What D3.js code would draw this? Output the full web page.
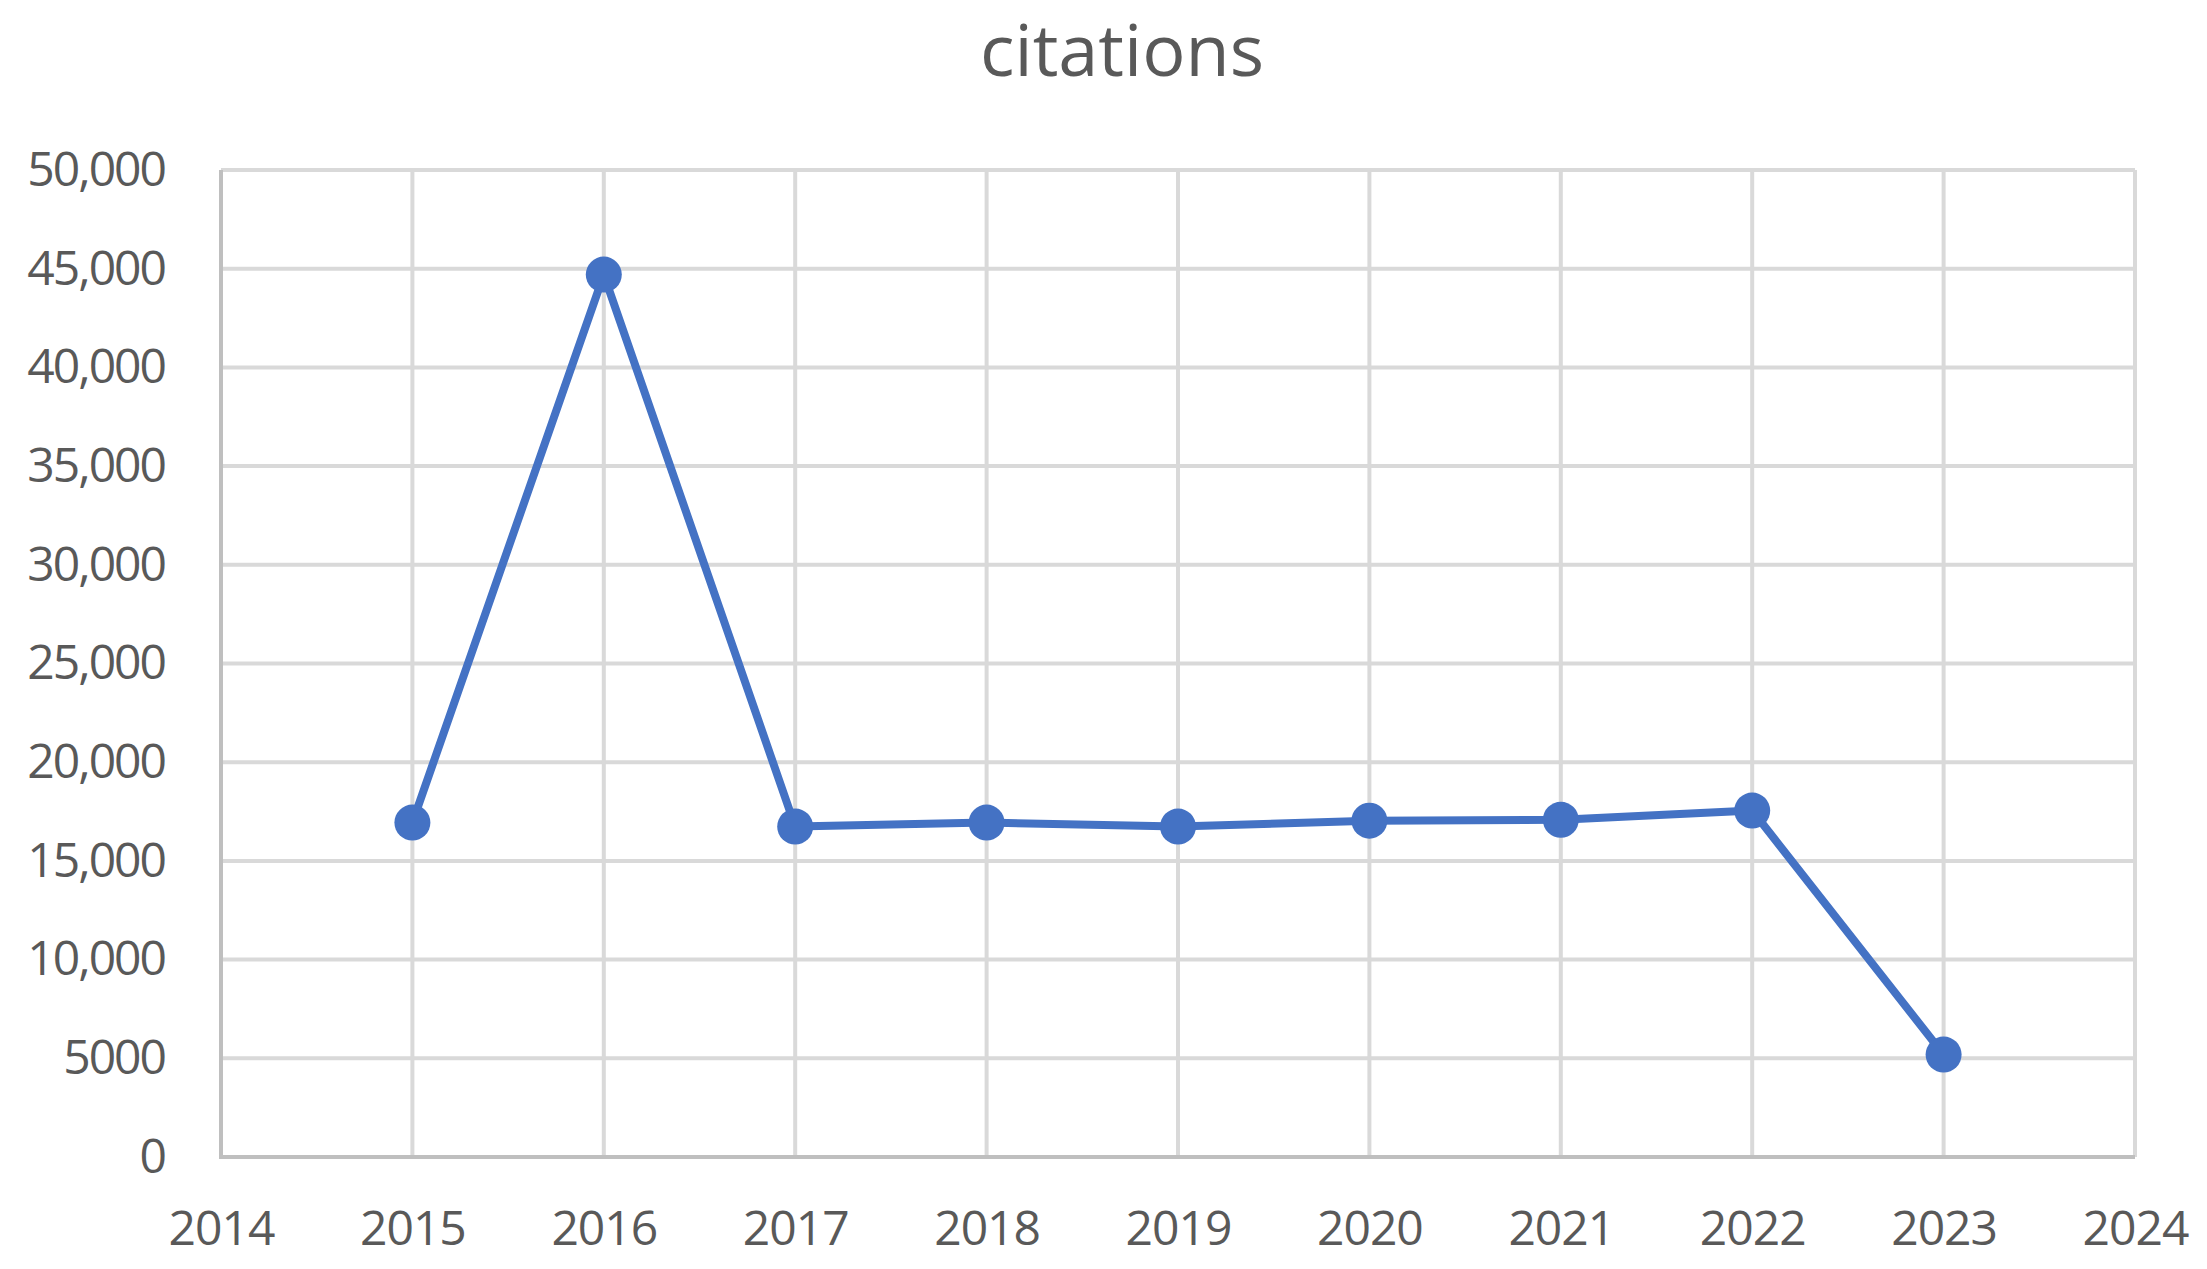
<!DOCTYPE html>
<html>
<head>
<meta charset="utf-8">
<script src="https://cdn.jsdelivr.net/npm/d3@7"></script>
<style>
	html, body { margin: 0; padding: 0; background: #fff; }
	svg text { font-family: 'Open Sans', 'Noto Sans', sans-serif; fill: #595959; }
</style>
</head>
<body>
<div id="chart"></div>
<script>
// ********** CITATIONS LINE CHART **********

// Chart data
const years = [2015, 2016, 2017, 2018, 2019, 2020, 2021, 2022, 2023];
const citations = [16940, 44700, 16740, 16940, 16740, 17040, 17080, 17550, 5190];

// Axis ticks
const xTicks = [2014, 2015, 2016, 2017, 2018, 2019, 2020, 2021, 2022, 2023, 2024];
const yTicks = [0, 5000, 10000, 15000, 20000, 25000, 30000, 35000, 40000, 45000, 50000];
const yTickLabels = ['0', '5000', '10,000', '15,000', '20,000', '25,000', '30,000', '35,000', '40,000', '45,000', '50,000'];

const width = 2207,
	  height = 1269;

// Set margins for plot area
const margin = {
	top: 170,
	left: 221,
	right: 72,
	bottom: 112
};

const lineColor = '#4472c4',
	  gridColor = '#d9d9d9',
	  axisColor = '#bfbfbf';

const svg = d3.select('#chart')
	.append('svg')
	.attr('width', width)
	.attr('height', height);

// Scales
const x = d3.scaleLinear()
	.domain([2014, 2024])
	.range([margin.left, width - margin.right]);

const y = d3.scaleLinear()
	.domain([0, 50000])
	.range([height - margin.bottom, margin.top]);

// Title
svg.append('text')
	.attr('x', 1122)
	.attr('y', 76)
	.attr('text-anchor', 'middle')
	.attr('font-size', 72)
	.text('citations');

// Horizontal gridlines
svg.append('g')
	.attr('class', 'y-grid')
	.selectAll('line')
	.data(yTicks)
	.enter()
	.append('line')
	.attr('x1', margin.left)
	.attr('x2', width - margin.right)
	.attr('y1', d => y(d))
	.attr('y2', d => y(d))
	.attr('stroke', gridColor)
	.attr('stroke-width', 4);

// Vertical gridlines
svg.append('g')
	.attr('class', 'x-grid')
	.selectAll('line')
	.data(xTicks)
	.enter()
	.append('line')
	.attr('x1', d => x(d))
	.attr('x2', d => x(d))
	.attr('y1', y(50000))
	.attr('y2', y(0))
	.attr('stroke', gridColor)
	.attr('stroke-width', 4);

// Axis lines (left and bottom), slightly darker than the grid
svg.append('line')
	.attr('x1', x(2014)).attr('x2', x(2014))
	.attr('y1', y(50000)).attr('y2', y(0) + 2)
	.attr('stroke', axisColor)
	.attr('stroke-width', 4);

svg.append('line')
	.attr('x1', x(2014) - 2).attr('x2', x(2024))
	.attr('y1', y(0)).attr('y2', y(0))
	.attr('stroke', axisColor)
	.attr('stroke-width', 4);

// Y axis labels
const yAxis = d3.axisLeft(y)
	.tickValues(yTicks)
	.tickFormat((d, i) => yTickLabels[i])
	.tickSize(0)
	.tickPadding(56);

svg.append('g')
	.attr('class', 'y-axis')
	.attr('transform', `translate(${margin.left}, 0)`)
	.call(yAxis)
	.call(g => g.select('.domain').remove())
	.selectAll('text')
	.attr('font-size', 48)
	.attr('letter-spacing', -2)
	.attr('fill', '#595959')
	.style('font-family', "'Open Sans', 'Noto Sans', sans-serif");

// X axis labels
const xAxis = d3.axisBottom(x)
	.tickValues(xTicks)
	.tickFormat(d3.format('d'))
	.tickSize(0)
	.tickPadding(54);

svg.append('g')
	.attr('class', 'x-axis')
	.attr('transform', `translate(0, ${height - margin.bottom})`)
	.call(xAxis)
	.call(g => g.select('.domain').remove())
	.selectAll('text')
	.attr('font-size', 48)
	.attr('letter-spacing', -1)
	.attr('fill', '#595959')
	.style('font-family', "'Open Sans', 'Noto Sans', sans-serif");

// Series line
const data = years.map((yr, i) => ({ year: yr, value: citations[i] }));

const line = d3.line()
	.x(d => x(d.year))
	.y(d => y(d.value));

svg.append('path')
	.datum(data)
	.attr('fill', 'none')
	.attr('stroke', lineColor)
	.attr('stroke-width', 8)
	.attr('stroke-linejoin', 'round')
	.attr('d', line);

// Markers
svg.append('g')
	.attr('class', 'markers')
	.selectAll('circle')
	.data(data)
	.enter()
	.append('circle')
	.attr('cx', d => x(d.year))
	.attr('cy', d => y(d.value))
	.attr('r', 18)
	.attr('fill', lineColor);
</script>
</body>
</html>
